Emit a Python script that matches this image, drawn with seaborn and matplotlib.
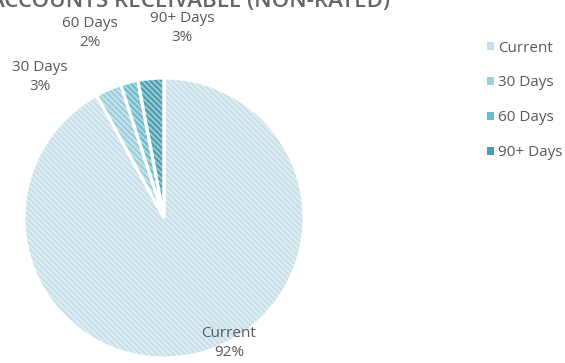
import matplotlib
matplotlib.use("Agg")
import matplotlib.pyplot as plt
from matplotlib.patches import Patch
import seaborn as sns

# Accounts receivable ageing buckets
categories = ["Current", "30 Days", "60 Days", "90+ Days"]
shares = [92, 3, 2, 3]
title = "ACCOUNTS RECEIVABLE (NON-RATED)"

sns.set_theme(style="white")
plt.rcParams["font.family"] = ["Open Sans", "DejaVu Sans"]
plt.rcParams["hatch.linewidth"] = 1.2

colors = ["#c6dfe9", "#9ccddb", "#6cbaca", "#4b9eb2"]
text_color = "#595959"

fig = plt.figure(figsize=(5.65, 3.63), dpi=100)
ax = fig.add_axes([0.0425, 0.0138, 0.4956, 0.7713])

# Hatched fill: faint white diagonal stripes over each slice colour
wedges, _ = ax.pie(
    shares, colors=colors, startangle=90, counterclock=False, radius=1.0,
    wedgeprops=dict(edgecolor=(1, 1, 1, 0.5), linewidth=0, hatch="\\\\\\\\\\\\"),
)
# White separators between the slices
ax.pie(
    shares, colors=["none"] * len(shares), startangle=90, counterclock=False,
    radius=1.0, wedgeprops=dict(edgecolor="white", linewidth=2.2, fill=False),
)
ax.set_xlim(-1, 1)
ax.set_ylim(-1, 1)
ax.set_aspect("equal")
ax.axis("off")

# Data labels: category name over percentage
label_pos = [(0.464, -0.893), (-0.886, 1.007), (-0.529, 1.321), (0.129, 1.357)]
for name, val, (lx, ly) in zip(categories, shares, label_pos):
    ax.text(lx, ly, f"{name}\n{val}%", ha="center", va="center",
            fontsize=11, color=text_color, linespacing=1.3, clip_on=False)

# Legend on the right with solid swatches
handles = [Patch(facecolor=c, edgecolor="none") for c in colors]
leg = fig.legend(
    handles, categories,
    loc="upper left", bbox_to_anchor=(479 / 565, 1 - 33 / 363),
    frameon=False, fontsize=11, labelspacing=1.3, borderpad=0,
    handlelength=0.45, handleheight=0.45, handletextpad=0.3,
)
for t in leg.get_texts():
    t.set_color(text_color)

# Title, running past the top edge of the canvas
fig.text(190 / 565, 1.0 - 7 / 363, title, ha="center", va="baseline",
         fontsize=16, color="#666666", fontweight="semibold")

fig.savefig("out.png", dpi=100)
